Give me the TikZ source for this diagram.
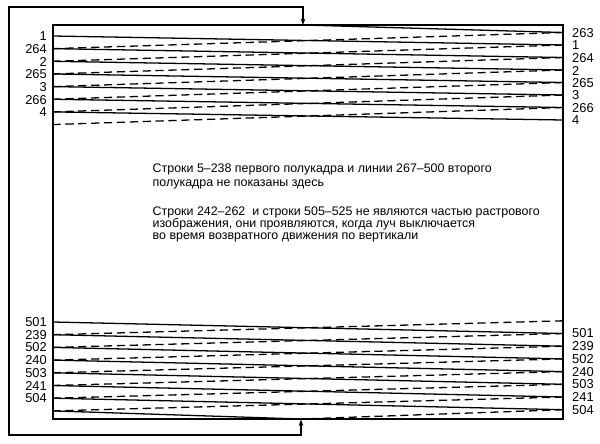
\documentclass[tikz,border=0pt]{standalone}
\usepackage{fontspec}
\setmainfont{Liberation Sans}
\usetikzlibrary{arrows.meta}

\begin{document}
\begin{tikzpicture}[x=0.03cm,y=-0.03cm,
    frameline/.style={line width=1.3pt},
    scanline/.style={line width=1.1pt},
    retrace/.style={line width=1.1pt,dash pattern=on 7pt off 4pt},
    numlabel/.style={font=\fontsize{11}{11}\selectfont,inner sep=0pt},
    notetext/.style={font=\fontsize{10.6}{10.2}\selectfont,align=left,inner sep=0pt,anchor=north west}]
    \useasboundingbox (0,0) rectangle (600,443);

    % vertical retrace loop
    \draw[frameline,{Stealth[length=5.5pt,width=4pt]}-{Stealth[length=5.5pt,width=4pt]}]
        (301,419.5) -- (301,435) -- (9,435) -- (9,7) -- (303,7) -- (303,25);
    % raster
    \draw[frameline] (53,25) rectangle (563,419);

    % top lines
    \draw[scanline] (303,25) -- (563,32.5);
    \foreach \k in {0,...,6} {
        \draw[scanline] (53,{36+12.65*\k}) -- (563,{32.5+12.5*(\k+1)});
        \draw[retrace] (563,{32.5+12.5*\k}) -- (53,{36+12.65*(\k+1)});
    }
    \foreach \k/\ltext in {0/1,1/264,2/2,3/265,4/3,5/266,6/4}
        \node[numlabel,anchor=east] (topl\k) at (47,{36.5+12.65*\k}) {\ltext};
    \foreach \k/\rtext in {0/263,1/1,2/264,3/2,4/265,5/3,6/266,7/4}
        \node[numlabel,anchor=west] (topr\k) at (572,{33+12.5*\k}) {\rtext};

    % bottom lines
    \foreach \k in {0,...,6}
        \draw[scanline] (53,{322+12.7*\k}) -- (563,{333.5+12.7*\k});
    \foreach \k in {-1,...,5}
        \draw[retrace] (563,{333.5+12.7*\k}) -- (53,{322+12.7*(\k+2)});
    \draw[scanline] (53,{322+12.7*7}) -- (301,419);
    \draw[retrace] (563,{333.5+12.7*6}) -- (301,419);
    \foreach \k/\ltext in {0/501,1/239,2/502,3/240,4/503,5/241,6/504} {
        \node[numlabel,anchor=east] (botl\k) at (47,{322+12.7*\k}) {\ltext};
        \node[numlabel,anchor=west] (botr\k) at (572,{333.5+12.7*\k}) {\ltext};
    }

    % notes
    \node[notetext] (fieldnote) at (152.5,164)
        {Строки 5–238 первого полукадра и линии 267–500 второго\\[1.5pt]
         полукадра не показаны здесь};
    \node[notetext] (blanknote) at (152.5,207)
        {Строки 242–262 \ и строки 505–525 не являются частью растрового\\
         изображения, они проявляются, когда луч выключается\\
         во время возвратного движения по вертикали};
\end{tikzpicture}
\end{document}
